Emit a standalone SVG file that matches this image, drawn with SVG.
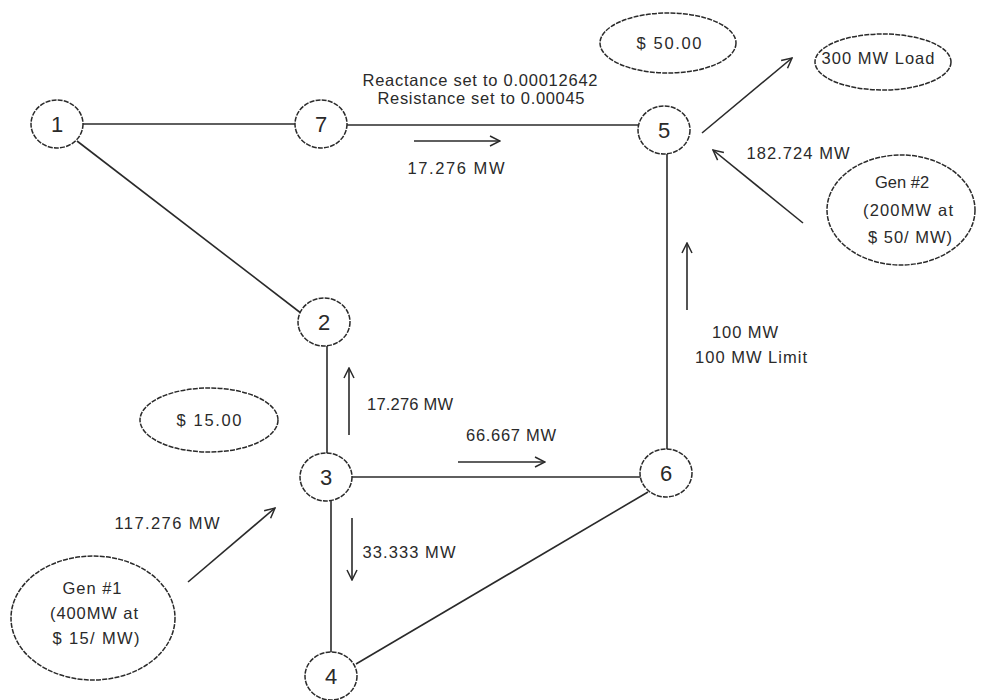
<svg xmlns="http://www.w3.org/2000/svg" width="990" height="700" viewBox="0 0 990 700">
<defs>
<marker id="ah" viewBox="0 0 12 12" refX="11" refY="6" markerWidth="12" markerHeight="12" markerUnits="userSpaceOnUse" orient="auto">
<path d="M1,1 L11,6 L1,11" fill="none" stroke="#2a2a2a" stroke-width="1.5"/>
</marker>
<style>
.bus{fill:#fff;stroke:#2a2a2a;stroke-width:1.5;stroke-dasharray:5 1.2}
.ell{fill:#fff;stroke:#2a2a2a;stroke-width:1.5;stroke-dasharray:5 1.2}
.num{font-family:"Liberation Sans",Arial,sans-serif;font-size:22px;fill:#2a2a2a;text-anchor:middle}
.t{font-family:"Liberation Sans",Arial,sans-serif;font-size:16.5px;fill:#2a2a2a;text-anchor:middle}
.ln{stroke:#2a2a2a;stroke-width:1.6;fill:none}
.ar{stroke:#2a2a2a;stroke-width:1.6;fill:none;marker-end:url(#ah)}
</style>
</defs>
<rect width="990" height="700" fill="#fff"/>
<g id="connectors">
<line class="ln" x1="83" y1="124" x2="295" y2="124"/>
<line class="ln" x1="347" y1="125" x2="638" y2="125"/>
<line class="ln" x1="77" y1="141" x2="306" y2="317"/>
<line class="ln" x1="327" y1="346" x2="327" y2="454"/>
<line class="ln" x1="350" y1="477" x2="641" y2="477"/>
<line class="ln" x1="331" y1="500" x2="331" y2="652"/>
<line class="ln" x1="356" y1="664" x2="648" y2="492"/>
<line class="ln" x1="667" y1="154" x2="667" y2="449"/>
<line class="ar" x1="414" y1="141" x2="500" y2="141"/>
<line class="ar" x1="702" y1="133" x2="792" y2="58"/>
<line class="ar" x1="803" y1="223" x2="713" y2="150"/>
<line class="ar" x1="687" y1="310" x2="687" y2="243"/>
<line class="ar" x1="349" y1="435" x2="349" y2="368"/>
<line class="ar" x1="458" y1="462" x2="545" y2="462"/>
<line class="ar" x1="352" y1="518" x2="352" y2="580"/>
<line class="ar" x1="188" y1="582" x2="275" y2="508"/>
</g>
<g id="node1"><ellipse class="bus" cx="57" cy="124" rx="26" ry="24"/><text class="num" x="57" y="132">1</text></g>
<g id="node7"><ellipse class="bus" cx="321" cy="124" rx="26" ry="24"/><text class="num" x="321" y="132">7</text></g>
<g id="node5"><ellipse class="bus" cx="664" cy="130" rx="26" ry="24"/><text class="num" x="664" y="138">5</text></g>
<g id="node2"><ellipse class="bus" cx="324" cy="322" rx="26" ry="24"/><text class="num" x="324" y="330">2</text></g>
<g id="node3"><ellipse class="bus" cx="326" cy="477" rx="26" ry="24"/><text class="num" x="326" y="485">3</text></g>
<g id="node6"><ellipse class="bus" cx="666" cy="473" rx="26" ry="24"/><text class="num" x="666" y="481">6</text></g>
<g id="node4"><ellipse class="bus" cx="331" cy="676" rx="26" ry="24"/><text class="num" x="331" y="684">4</text></g>
<g id="price5"><ellipse class="ell" cx="668" cy="43" rx="68" ry="30"/><text class="t" x="669" y="49" textLength="65" lengthAdjust="spacing">$ 50.00</text></g>
<g id="load"><ellipse class="ell" cx="883" cy="62" rx="68" ry="28"/><text class="t" x="878" y="64" textLength="113" lengthAdjust="spacing">300 MW Load</text></g>
<g id="gen2"><ellipse class="ell" cx="901" cy="210" rx="74" ry="55"/>
<text class="t" x="902" y="188">Gen #2</text>
<text class="t" x="908" y="216" textLength="90" lengthAdjust="spacing">(200MW at</text>
<text class="t" x="910" y="243" textLength="84" lengthAdjust="spacing">$ 50/ MW)</text></g>
<g id="price3"><ellipse class="ell" cx="209" cy="420" rx="69" ry="32"/><text class="t" x="209" y="426" textLength="65" lengthAdjust="spacing">$ 15.00</text></g>
<g id="gen1"><ellipse class="ell" cx="93" cy="618" rx="82" ry="62"/>
<text class="t" x="92" y="594" textLength="59" lengthAdjust="spacing">Gen #1</text>
<text class="t" x="94" y="619" textLength="88" lengthAdjust="spacing">(400MW at</text>
<text class="t" x="96" y="644" textLength="87" lengthAdjust="spacing">$ 15/ MW)</text></g>
<g id="labels">
<text class="t" x="480" y="86" textLength="235" lengthAdjust="spacing">Reactance set to 0.00012642</text>
<text class="t" x="481" y="104" textLength="207" lengthAdjust="spacing">Resistance set to 0.00045</text>
<text class="t" x="456" y="174" textLength="97" lengthAdjust="spacing">17.276 MW</text>
<text class="t" x="798" y="159" textLength="103" lengthAdjust="spacing">182.724 MW</text>
<text class="t" x="745" y="338" textLength="66" lengthAdjust="spacing">100 MW</text>
<text class="t" x="751" y="363" textLength="112" lengthAdjust="spacing">100 MW Limit</text>
<text class="t" x="410" y="410" textLength="86" lengthAdjust="spacing">17.276 MW</text>
<text class="t" x="511" y="441" textLength="90" lengthAdjust="spacing">66.667 MW</text>
<text class="t" x="167" y="529" textLength="105" lengthAdjust="spacing">117.276 MW</text>
<text class="t" x="409" y="558" textLength="93" lengthAdjust="spacing">33.333 MW</text>
</g>
</svg>
